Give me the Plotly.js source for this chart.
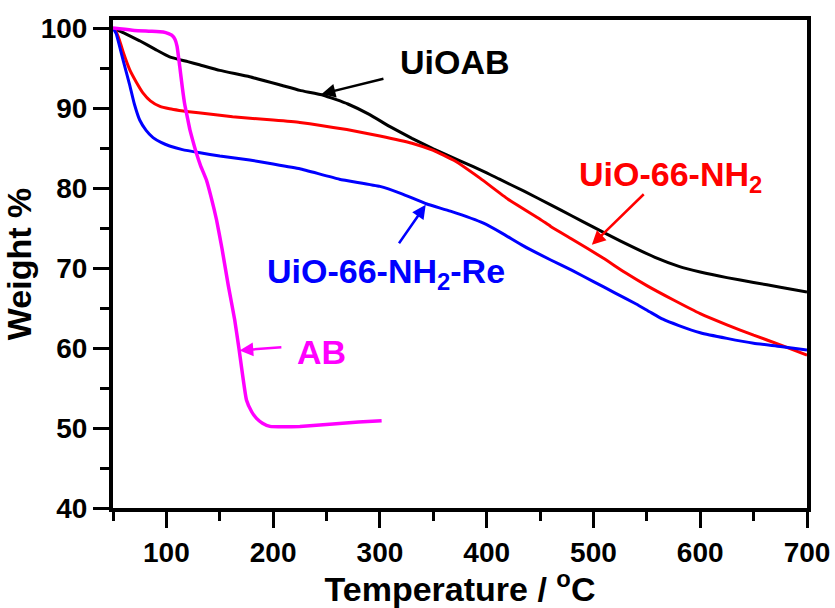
<!DOCTYPE html>
<html>
<head>
<meta charset="utf-8">
<script src="https://cdn.plot.ly/plotly-3.0.1.min.js"></script>
<style>html,body{margin:0;padding:0;background:#fff;}#plot{width:835px;height:608px;}</style>
</head>
<body>
<div id="plot"></div>
<script>
// UiOAB (black)
const uioabT = [50, 60, 75, 90, 103, 120, 131, 150, 178, 206, 225, 247, 270, 290, 309, 330, 350, 375, 400, 412, 435, 460, 480, 500, 525, 560, 580, 600, 625, 650, 675, 700];
const uioabW = [100, 99.4, 98.4, 97.3, 96.4, 95.8, 95.4, 94.7, 93.9, 92.9, 92.2, 91.6, 90.5, 89.2, 87.7, 86.2, 84.9, 83.4, 81.9, 81.1, 79.6, 77.9, 76.5, 75.1, 73.4, 71.2, 70.2, 69.5, 68.8, 68.2, 67.6, 67.0];
// UiO-66-NH2 (red)
const nh2T = [50, 53, 56, 60, 65.6, 72, 78, 85, 94, 103, 112, 130, 162, 200, 225, 269, 300, 330, 350, 370, 394, 420, 450, 460, 480, 509, 530, 550, 575, 600, 625, 650, 675, 700];
const nh2W = [100, 99.5, 98.5, 96.8, 94.8, 93.2, 91.9, 90.9, 90.2, 89.9, 89.7, 89.4, 88.9, 88.5, 88.2, 87.3, 86.5, 85.6, 84.7, 83.4, 81.2, 78.6, 76.1, 75.2, 73.6, 71.25, 69.4, 67.8, 66.0, 64.3, 62.9, 61.6, 60.4, 59.1];
// UiO-66-NH2-Re (blue)
const reT = [50, 53, 56, 60, 65.6, 70, 75, 81, 87.5, 95, 103, 115, 131.5, 150, 178, 200, 225, 262, 300, 320, 344, 366, 397, 415, 434, 460, 480, 500, 520, 540, 553, 565, 580, 600, 625, 650, 675, 700];
const reW = [100, 99.3, 97.8, 95.7, 92.9, 90.5, 88.5, 87.2, 86.3, 85.7, 85.25, 84.8, 84.4, 84.0, 83.5, 83.0, 82.4, 81.1, 80.2, 79.3, 78.0, 77.1, 75.6, 74.3, 72.8, 71.0, 69.7, 68.3, 66.9, 65.5, 64.5, 63.6, 62.8, 61.9, 61.2, 60.6, 60.2, 59.75];
// AB (magenta)
const abT = [50, 56, 70, 85, 97, 102, 105, 108, 110, 112.5, 115, 117, 120, 122, 125, 128, 132, 137.5, 142, 147, 152, 158, 164, 168, 175, 180, 184.4, 190, 197, 210, 225, 256, 280, 301.6];
const abW = [100, 99.9, 99.7, 99.6, 99.5, 99.3, 99.1, 98.6, 97.7, 95.2, 92.5, 90.6, 88.6, 87.3, 85.8, 84.4, 82.8, 81.0, 78.8, 76.0, 72.5, 67.8, 63.5, 59.9, 53.5, 52.0, 51.2, 50.6, 50.2, 50.15, 50.2, 50.5, 50.75, 50.9];

const xTickStep = 100, xMinorStep = 50;
const yTickStep = 10, yMinorStep = 5;

const FONT = '"Liberation Sans", Arial, sans-serif';

function line(x, y, color, w, name) {
  return {x: x, y: y, type: 'scatter', mode: 'lines', name: name,
          line: {color: color, width: w, shape: 'spline', smoothing: 0.4}};
}

const data = [
  line(uioabT, uioabW, '#000000', 3, 'UiOAB'),
  line(nh2T, nh2W, '#ff0000', 3, 'UiO-66-NH2'),
  line(reT, reW, '#0000ff', 3, 'UiO-66-NH2-Re'),
  line(abT, abW, '#ff00ff', 3.5, 'AB')
];

function label(text, x, y, color) {
  return {text: text, x: x, y: y, xref: 'x', yref: 'y', showarrow: false,
          xanchor: 'left', yanchor: 'middle',
          font: {family: FONT, size: 34, color: color, weight: 'bold'}};
}
function arrow(hx, hy, tx, ty, color) {
  return {text: '', x: hx, y: hy, ax: tx, ay: ty, xref: 'x', yref: 'y', axref: 'x', ayref: 'y',
          showarrow: true, arrowhead: 2, arrowsize: 1.1, arrowwidth: 2.5, arrowcolor: color, standoff: 0, startstandoff: 0};
}

function axisBase(range, step, minorStep, title, standoff) {
  return {
    range: range, tickmode: 'linear', tick0: 0, dtick: step,
    ticks: 'outside', ticklen: 16, tickwidth: 3, tickcolor: 'black',
    showline: true, linewidth: 4, linecolor: 'black', mirror: true,
    showgrid: false, zeroline: false,
    tickfont: {family: FONT, size: 28, weight: 'bold', color: 'black'},
    minor: {ticks: 'outside', ticklen: 9, tickwidth: 3, tickcolor: 'black', tick0: 0, dtick: minorStep, showgrid: false},
    title: {text: title, font: {family: FONT, size: 34, weight: 'bold', color: 'black'}, standoff: standoff}
  };
}

const layout = {
  width: 835, height: 608,
  margin: {l: 113, r: 28, t: 20, b: 100},
  paper_bgcolor: '#ffffff', plot_bgcolor: '#ffffff',
  showlegend: false,
  font: {family: FONT, color: '#000000'},
  xaxis: axisBase([50, 700], xTickStep, xMinorStep, 'Temperature / <sup>o</sup>C', 10),
  yaxis: axisBase([40, 101], yTickStep, yMinorStep, 'Weight %', 14),
  annotations: [
    label('UiOAB', 316.9, 95.75, '#000000'),
    label('UiO-66-NH<sub>2</sub>', 484.7, 81.4, '#ff0000'),
    label('UiO-66-NH<sub>2</sub>-Re', 192.2, 69.3, '#0000ff'),
    label('AB', 220.2, 59.5, '#ff00ff'),
    arrow(245.4, 91.75, 304.7, 93.7, '#000000'),
    arrow(498.5, 72.9, 548.5, 79.4, '#ff0000'),
    arrow(342.9, 77.9, 316.9, 72.9, '#0000ff'),
    arrow(168.5, 59.7, 209.1, 60.1, '#ff00ff')
  ]
};

Plotly.newPlot('plot', data, layout, {displayModeBar: false});
</script>
</body>
</html>
